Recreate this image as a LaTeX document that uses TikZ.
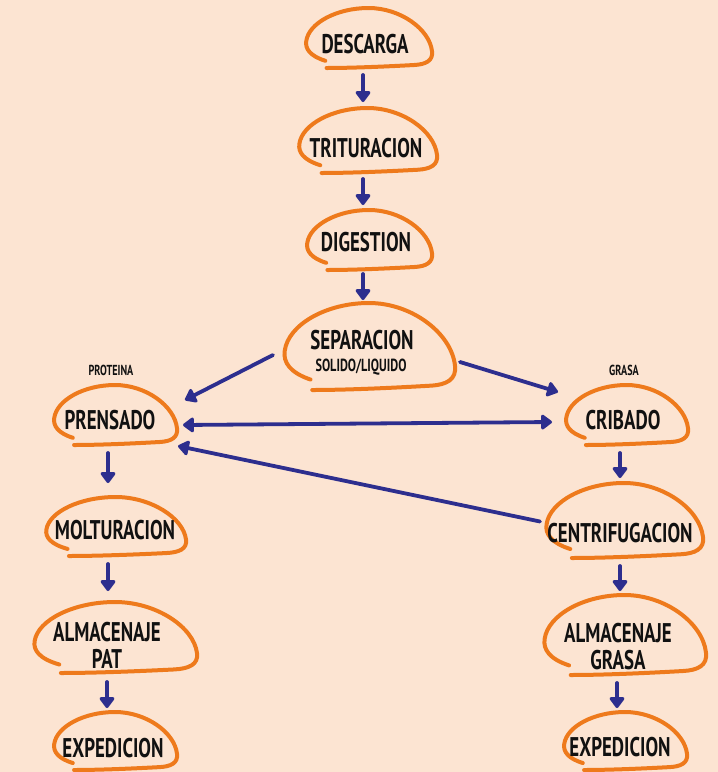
\documentclass[tikz,border=0pt]{standalone}
\usepackage{fontspec}
\newfontfamily\hand[FakeStretch=0.7]{PT Sans}
\usetikzlibrary{arrows.meta,calc}
\definecolor{bg}{HTML}{FCE4D2}
\definecolor{blobc}{HTML}{EE7A1C}
\definecolor{arrc}{HTML}{2D2E8E}
\definecolor{ink}{HTML}{111111}
\def\P#1#2{({\x1+(#1)*(\x2-\x1)},{\y1+(#2)*(\y2-\y1)})}
\newcommand\blobdraw[1]{%
  \draw[blobline] let \p1=(#1.north west), \p2=(#1.south east) in
    \P{0.16}{0.88} .. controls \P{0.04}{0.80} and \P{0.0}{0.68} .. \P{0.01}{0.55}
    .. controls \P{0.03}{0.25} and \P{0.25}{0.0} .. \P{0.5}{0.0}
    .. controls \P{0.75}{0.0} and \P{0.98}{0.35} .. \P{1.0}{0.72}
    .. controls \P{1.01}{0.88} and \P{0.95}{0.94} .. \P{0.86}{0.95}
    .. controls \P{0.6}{0.98} and \P{0.35}{1.0} .. \P{0.17}{1.0};}
\begin{document}
\begin{tikzpicture}[x=1pt,y=-1pt,
  box/.style={draw=none,inner sep=0,outer sep=0},
  blobline/.style={draw=blobc,line width=4pt,line cap=round,line join=round},
  txt/.style={inner sep=0,text=ink,font=\hand\bfseries\fontsize{27}{27}\selectfont,align=center},
  small/.style={inner sep=0,text=ink,font=\hand\bfseries\fontsize{17.5}{18}\selectfont},
  tiny/.style={inner sep=0,text=ink,font=\hand\bfseries\fontsize{14.5}{15}\selectfont},
  arr/.style={draw=arrc,fill=arrc,line width=3.8pt,line cap=round,-{Triangle[length=12pt,width=17pt,round]}},
  darr/.style={draw=arrc,fill=arrc,line width=3.8pt,line cap=round,
    {Triangle[length=12pt,width=17pt,round]}-{Triangle[length=12pt,width=17pt,round]}}
]
\fill[bg] (0,0) rectangle (718,772);
\useasboundingbox (0,0) rectangle (718,772);

% blob boxes
\node[box,minimum width=127,minimum height=60] (desc) at (368.5,38) {};
\node[box,minimum width=139,minimum height=65] (trit) at (367.5,140.5) {};
\node[box,minimum width=126,minimum height=60] (dige) at (369,240) {};
\node[box,minimum width=172,minimum height=87] (sep) at (369,346.5) {};
\node[box,minimum width=124,minimum height=60] (pren) at (115,415) {};
\node[box,minimum width=123,minimum height=60] (crib) at (626.5,415) {};
\node[box,minimum width=141,minimum height=59] (molt) at (115.5,526.5) {};
\node[box,minimum width=158,minimum height=75] (cent) at (624,520.5) {};
\node[box,minimum width=164,minimum height=71] (almp) at (115,637.5) {};
\node[box,minimum width=163,minimum height=80] (almg) at (624.5,635) {};
\node[box,minimum width=124,minimum height=58] (expl) at (115,741) {};
\node[box,minimum width=124,minimum height=58] (expr) at (625,741) {};

\blobdraw{desc}\blobdraw{trit}\blobdraw{dige}\blobdraw{sep}
\blobdraw{pren}\blobdraw{crib}\blobdraw{molt}\blobdraw{cent}
\blobdraw{almp}\blobdraw{almg}\blobdraw{expl}\blobdraw{expr}

% texts
\node[txt] (tdesc) at (365,44) {DESCARGA};
\node[txt] (ttrit) at (366,148) {TRITURACION};
\node[txt] (tdige) at (366,242) {DIGESTION};
\node[txt] (tsep) at (362,340) {SEPARACION};
\node[small] (tsep2) at (361,367) {SOLIDO/LIQUIDO};
\node[tiny] (tprot) at (111,370) {PROTEINA};
\node[tiny] (tgras) at (624,370) {GRASA};
\node[txt] (tpren) at (110,420) {PRENSADO};
\node[txt] (tcrib) at (623,420) {CRIBADO};
\node[txt] (tmolt) at (115,530) {MOLTURACION};
\node[txt] (tcent) at (620,533) {CENTRIFUGACION};
\node[txt] (talmp) at (107,645) {ALMACENAJE\\PAT};
\node[txt] (talmg) at (618,646.5) {ALMACENAJE\\GRASA};
\node[txt] (texpl) at (113,748) {EXPEDICION};
\node[txt] (texpr) at (620,747) {EXPEDICION};

% connectors
\draw[arr] ([shift={(-5.5,7)}]desc.south) -- ([shift={(-4.5,-6)}]trit.north);
\draw[arr] ([shift={(-4.5,6)}]trit.south) -- ([shift={(-6,-5)}]dige.north);
\draw[arr] ([shift={(-6,4)}]dige.south) -- ([shift={(-6,-3)}]sep.north);
\draw[arr] ([shift={(-10,8.5)}]sep.west) -- ([shift={(8,15)}]pren.north east);
\draw[arr] ([shift={(5,15.5)}]sep.east) -- ([shift={(-7,7)}]crib.north west);
\draw[darr] ([shift={(6,10)}]pren.east) -- ([shift={(-13,7)}]crib.west);
\draw[arr] ([shift={(-5,1)}]cent.west) -- ([shift={(1,1)}]pren.south east);
\draw[arr] ([shift={(-7,8)}]pren.south) -- ([shift={(-7.5,-14)}]molt.north);
\draw[arr] ([shift={(-7.5,8)}]molt.south) -- ([shift={(-7,-11)}]almp.north);
\draw[arr] ([shift={(-8,9)}]almp.south) -- ([shift={(-8,-4)}]expl.north);
\draw[arr] ([shift={(-6.5,8)}]crib.south) -- ([shift={(-4,-5)}]cent.north);
\draw[arr] ([shift={(-4,8)}]cent.south) -- ([shift={(-4.5,-4)}]almg.north);
\draw[arr] ([shift={(-7.5,8)}]almg.south) -- ([shift={(-8,-4)}]expr.north);
\end{tikzpicture}
\end{document}
